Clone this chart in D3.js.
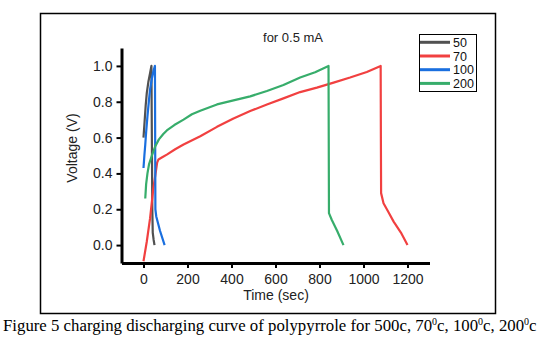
<!DOCTYPE html>
<meta charset="utf-8">
<head>
  <title>Charging discharging curve</title>
  <script src="https://d3js.org/d3.v7.min.js"></script>
  <style>
    body { margin: 0; background: #fff; }
    text { font-family: "Liberation Sans", Arial, sans-serif; }
    text.caption { font-family: "Liberation Serif", "Times New Roman", serif; }
  </style>
</head>
<body>
<div id="chart"></div>
<script>
// series: time (sec) and voltage (V)
var t50 = [0, 5, 10, 15, 22, 30, 36, 38, 40, 42, 46, 50];
var v50 = [0.60, 0.69, 0.78, 0.85, 0.91, 0.96, 1.0, 0.6, 0.2, 0.07, 0.03, 0.0];

var t70 = [0, 15, 30, 45, 55, 62, 68, 85, 106, 144, 182, 258, 334, 409, 485, 561, 636, 712, 788, 864, 939, 1015, 1078, 1079, 1080, 1091, 1115, 1137, 1170, 1200];
var v70 = [-0.09, 0.02, 0.15, 0.32, 0.40, 0.46, 0.478, 0.49, 0.505, 0.535, 0.561, 0.607, 0.66, 0.707, 0.748, 0.785, 0.819, 0.854, 0.879, 0.907, 0.935, 0.966, 1.0, 0.6, 0.29, 0.234, 0.18, 0.131, 0.07, 0.0];

var t100 = [0, 4, 8, 12, 18, 25, 30, 38, 45, 52, 53, 54, 58, 75, 96];
var v100 = [0.43, 0.50, 0.56, 0.63, 0.72, 0.81, 0.87, 0.93, 0.97, 1.0, 0.6, 0.2, 0.16, 0.08, 0.0];

var t200 = [8, 12, 18, 25, 38, 53, 70, 90, 106, 140, 182, 220, 258, 334, 409, 485, 561, 636, 712, 780, 841, 842, 843, 856, 880, 909];
var v200 = [0.26, 0.34, 0.40, 0.45, 0.50, 0.55, 0.59, 0.62, 0.64, 0.67, 0.70, 0.73, 0.75, 0.785, 0.808, 0.83, 0.86, 0.893, 0.935, 0.965, 1.0, 0.6, 0.178, 0.14, 0.08, 0.0];

var seriesNames = ["50", "70", "100", "200"];
var seriesColors = ["#515151", "#F14040", "#1A6FDF", "#37AD6B"];
var xTicks = [0, 200, 400, 600, 800, 1000, 1200];
var yTicks = [0.0, 0.2, 0.4, 0.6, 0.8, 1.0];

var W = 547, H = 351;
var svg = d3.select("#chart").append("svg")
  .attr("width", W).attr("height", H);

// outer frame
svg.append("rect")
  .attr("x", 40.5).attr("y", 13.5).attr("width", 455).attr("height", 300)
  .attr("fill", "none").attr("stroke", "#000").attr("stroke-width", 1.5);

var x = d3.scaleLinear().domain([-100, 1300]).range([121.5, 429.5]);
var y = d3.scaleLinear().domain([-0.1, 1.1]).range([263, 48]);

var series = [
  {name: seriesNames[0], t: t50, v: v50},
  {name: seriesNames[1], t: t70, v: v70},
  {name: seriesNames[2], t: t100, v: v100},
  {name: seriesNames[3], t: t200, v: v200}
];

var line = d3.line()
  .x(function(d) { return x(d[0]); })
  .y(function(d) { return y(d[1]); });

svg.append("g").selectAll("path")
  .data(series)
  .enter().append("path")
    .attr("fill", "none")
    .attr("stroke", function(d, i) { return seriesColors[i]; })
    .attr("stroke-width", 2.2)
    .attr("stroke-linejoin", "round")
    .attr("d", function(d) { return line(d.t.map(function(t, i) { return [t, d.v[i]]; })); });

// minor ticks
var xMinor = d3.range(-100, 1301, 200);
var yMinor = d3.range(-1, 12, 2).map(function(k) { return k / 10; });

var gx = svg.append("g").attr("transform", "translate(0," + y(-0.1) + ")");
gx.call(d3.axisBottom(x).tickValues(xMinor).tickSize(3).tickSizeOuter(0).tickFormat(""));
gx.call(d3.axisBottom(x).tickValues(xTicks).tickSize(5).tickSizeOuter(0).tickFormat(d3.format("d")));

var gy = svg.append("g").attr("transform", "translate(" + x(-100) + ",0)");
gy.call(d3.axisLeft(y).tickValues(yMinor).tickSize(3).tickSizeOuter(0).tickFormat(""));
gy.call(d3.axisLeft(y).tickValues(yTicks).tickSize(5).tickSizeOuter(0).tickFormat(d3.format(".1f")));

svg.selectAll(".domain").attr("stroke", "#000").attr("stroke-width", 3);
svg.selectAll(".tick line").attr("stroke", "#000").attr("stroke-width", 2);
svg.selectAll(".tick text")
  .style("font-family", "'Liberation Sans', Arial, sans-serif")
  .attr("font-size", 14).attr("fill", "#222");
gx.selectAll(".tick text").attr("dy", "0.95em");
gy.selectAll(".tick text").attr("x", -9);

// axis titles
svg.append("text")
  .attr("x", 276).attr("y", 300)
  .attr("text-anchor", "middle").attr("font-size", 14).attr("fill", "#222")
  .text("Time (sec)");

svg.append("text")
  .attr("transform", "translate(77,148) rotate(-90)")
  .attr("text-anchor", "middle").attr("font-size", 14).attr("fill", "#222")
  .text("Voltage (V)");

svg.append("text")
  .attr("x", 293).attr("y", 41.5)
  .attr("text-anchor", "middle").attr("font-size", 13).attr("fill", "#222")
  .text("for 0.5 mA");

// legend
var legend = svg.append("g");
legend.append("rect")
  .attr("x", 419.5).attr("y", 34.5).attr("width", 57).attr("height", 57)
  .attr("fill", "#fff").attr("stroke", "#000").attr("stroke-width", 1);
var rows = legend.selectAll("g.row").data(series).enter().append("g")
  .attr("transform", function(d, i) { return "translate(0," + (42.3 + i * 13.7) + ")"; });
rows.append("line")
  .attr("x1", 420).attr("x2", 450)
  .attr("stroke", function(d, i) { return seriesColors[i]; })
  .attr("stroke-width", 3);
rows.append("text")
  .attr("x", 453).attr("dy", "0.36em")
  .attr("font-size", 12.5).attr("fill", "#111")
  .text(function(d) { return d.name; });

// caption
var cap = svg.append("text")
  .attr("class", "caption")
  .attr("x", 3).attr("y", 331)
  .attr("font-size", 16.8).attr("fill", "#000");
cap.append("tspan").text("Figure 5 charging discharging curve of polypyrrole for 500c, 70");
cap.append("tspan").attr("font-size", 10).attr("dy", -6).text("0");
cap.append("tspan").attr("dy", 6).text("c, 100");
cap.append("tspan").attr("font-size", 10).attr("dy", -6).text("0");
cap.append("tspan").attr("dy", 6).text("c, 200");
cap.append("tspan").attr("font-size", 10).attr("dy", -6).text("0");
cap.append("tspan").attr("dy", 6).text("c");
</script>
</body>
